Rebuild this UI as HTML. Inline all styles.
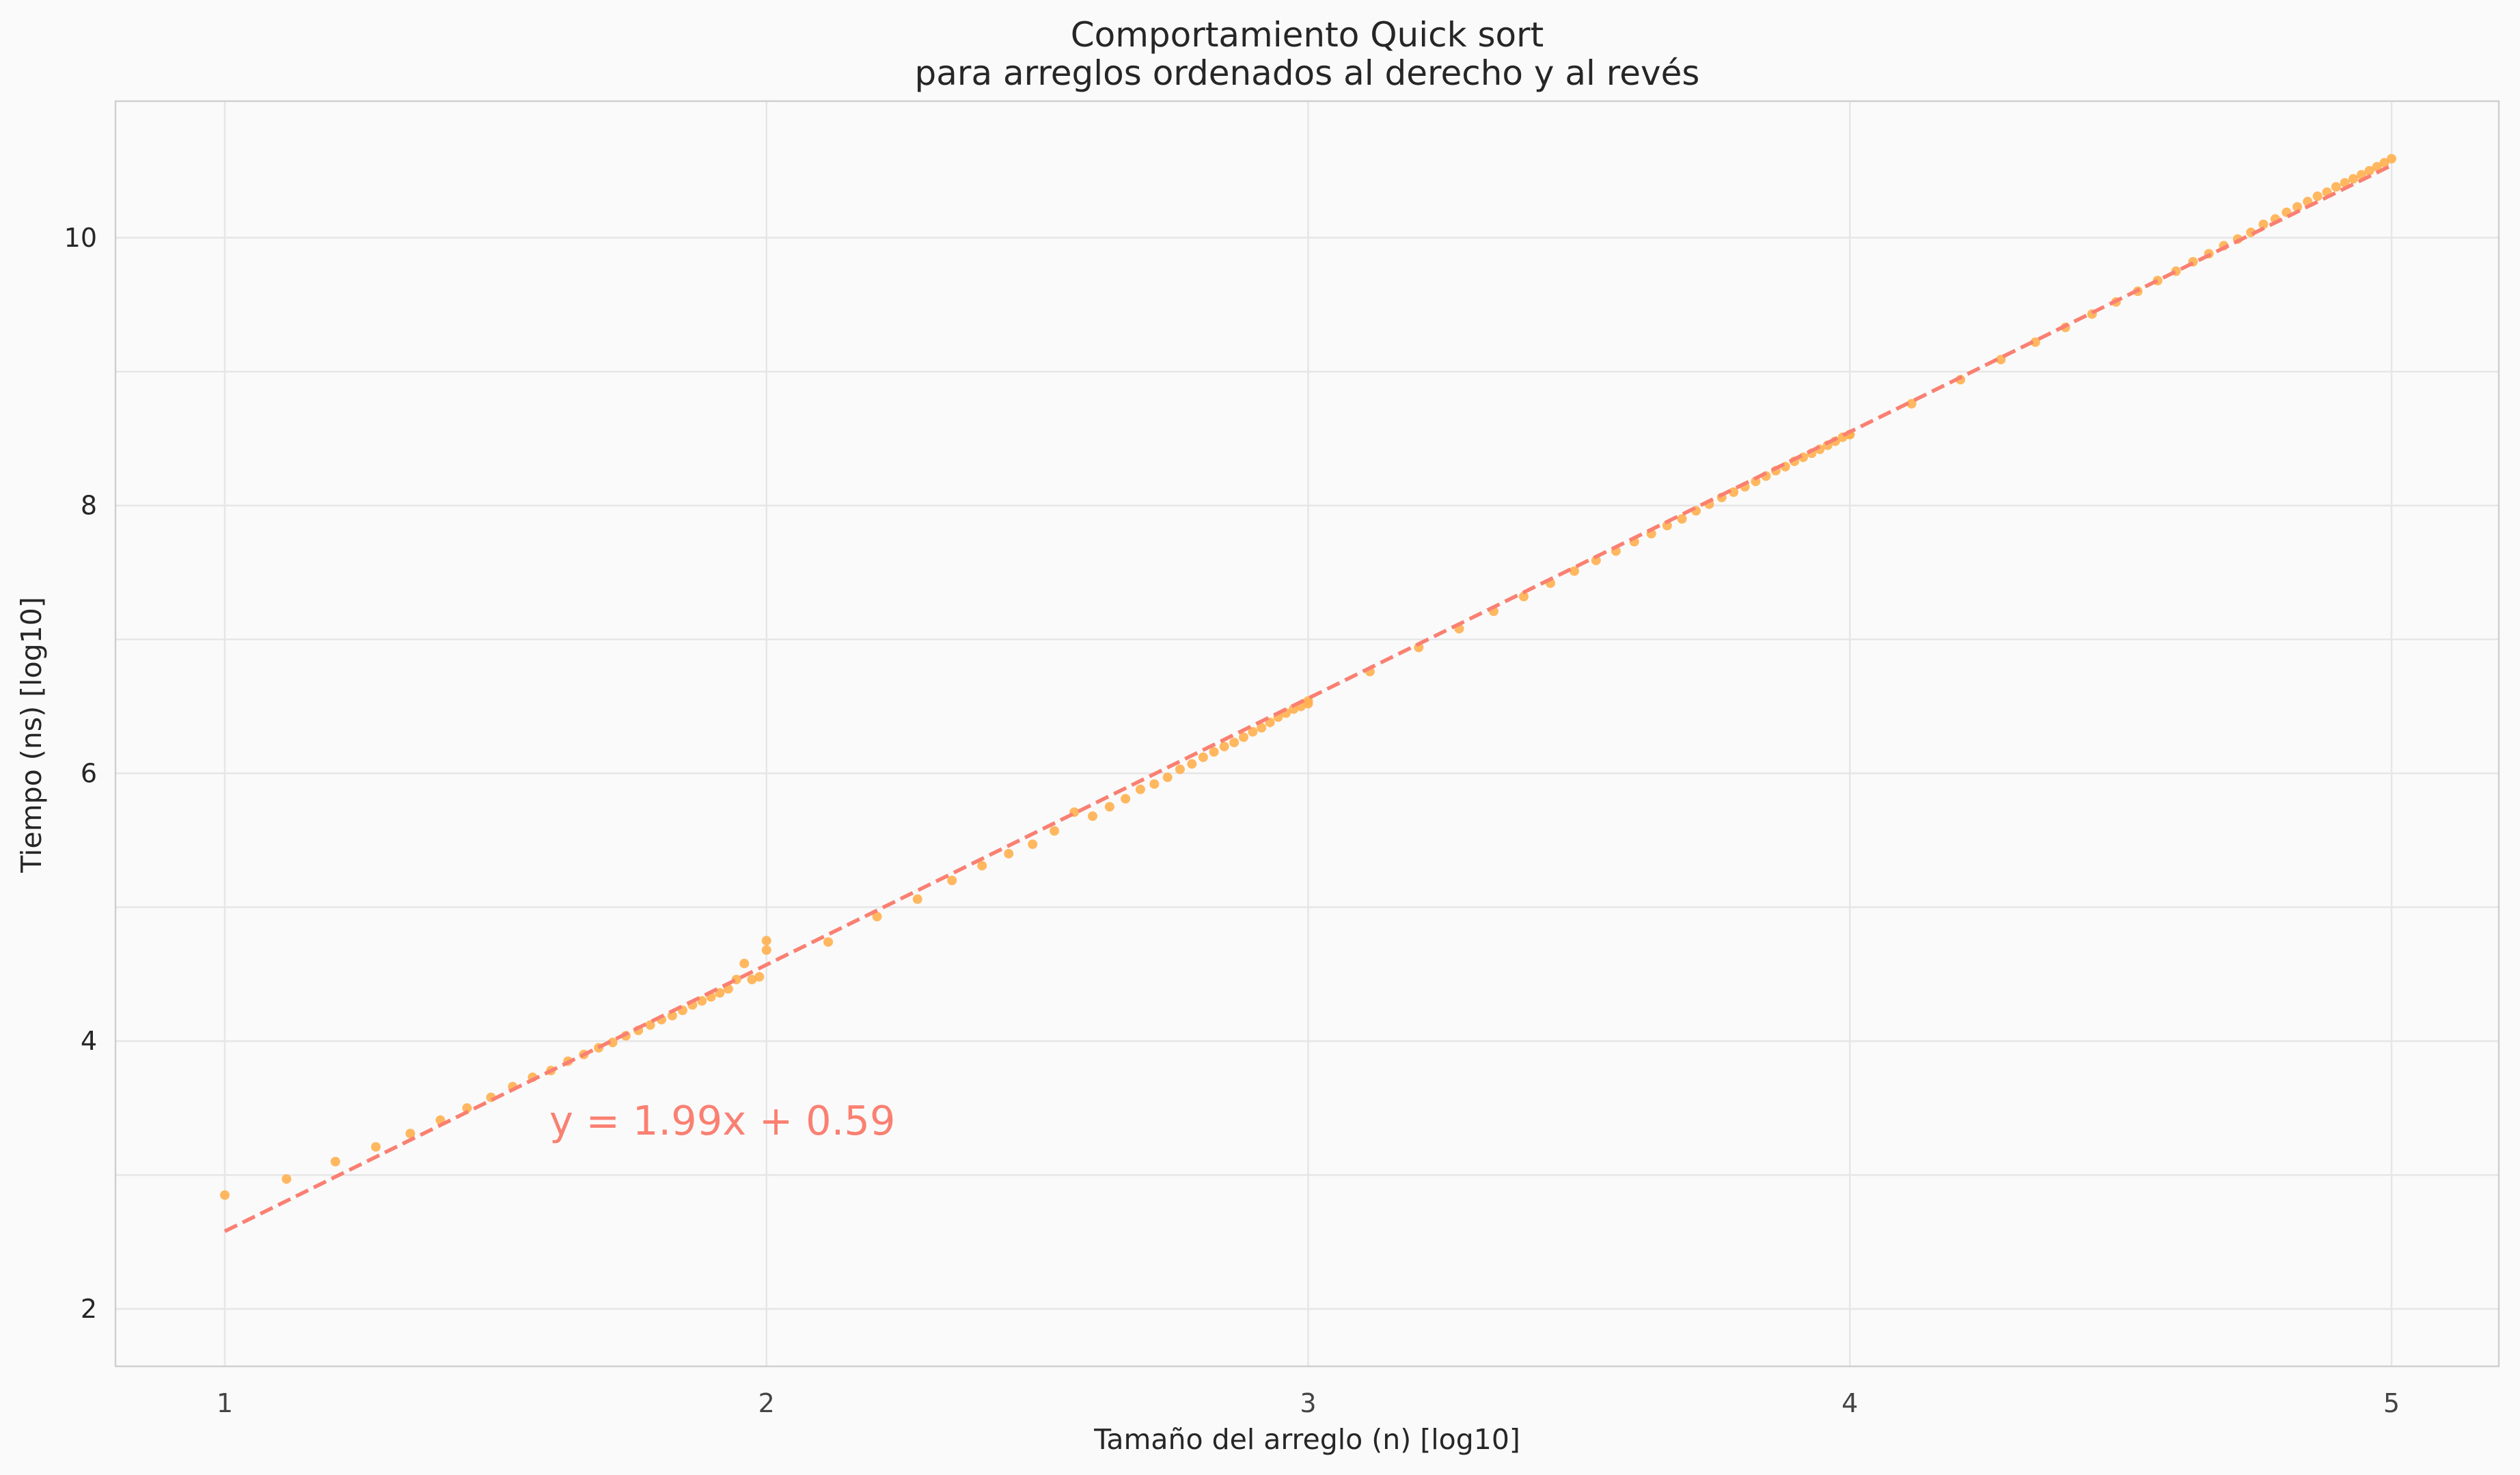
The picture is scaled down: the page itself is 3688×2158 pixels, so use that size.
<!DOCTYPE html>
<html><head><meta charset="utf-8"><style>
body{margin:0;background:#fafafa;}
svg{display:block;font-family:"DejaVu Sans","Liberation Sans",sans-serif;}
</style></head><body>
<svg id="chart" width="3688" height="2158" viewBox="0 0 3688 2158" xmlns="http://www.w3.org/2000/svg">
<rect width="3688" height="2158" fill="#fafafa"/>
<g id="grid"></g>
<g id="marks"></g>
<rect x="169" y="148" width="3488" height="1851" fill="none" stroke="#cfcfcf" stroke-width="2.5"/>
<text x="1913" y="68" font-size="50" text-anchor="middle" fill="#262626">Comportamiento Quick sort</text>
<text x="1913" y="124" font-size="50" text-anchor="middle" fill="#262626">para arreglos ordenados al derecho y al revés</text>
<text x="1913" y="2120" font-size="41" text-anchor="middle" fill="#262626">Tamaño del arreglo (n) [log10]</text>
<text transform="translate(60,1075) rotate(-90)" font-size="41" text-anchor="middle" fill="#262626">Tiempo (ns) [log10]</text>
<g id="ticks"></g>
</svg>
<script>
const sizes = [10,13,16,19,22,25,28,31,34,37,40,43,46,49,52,55,58,61,64,67,70,73,76,79,82,85,88,91,94,97,100,
100,130,160,190,220,250,280,310,340,370,400,430,460,490,520,550,580,610,640,670,700,730,760,790,820,850,880,910,940,970,1000,
1000,1300,1600,1900,2200,2500,2800,3100,3400,3700,4000,4300,4600,4900,5200,5500,5800,6100,6400,6700,7000,7300,7600,7900,8200,8500,8800,9100,9400,9700,10000,
10000,13000,16000,19000,22000,25000,28000,31000,34000,37000,40000,43000,46000,49000,52000,55000,58000,61000,64000,67000,70000,73000,76000,79000,82000,85000,88000,91000,94000,97000,100000];
const times = [2.85,2.97,3.10,3.21,3.31,3.41,3.50,3.58,3.66,3.73,3.78,3.85,3.90,3.95,3.99,4.04,4.08,4.12,4.16,4.19,4.23,4.27,4.30,4.33,4.36,4.39,4.46,4.58,4.46,4.48,4.75,
4.68,4.74,4.93,5.06,5.20,5.31,5.40,5.47,5.57,5.71,5.68,5.75,5.81,5.88,5.92,5.97,6.03,6.07,6.12,6.16,6.20,6.23,6.27,6.31,6.34,6.38,6.42,6.45,6.48,6.50,6.52,
6.54,6.76,6.94,7.08,7.21,7.32,7.42,7.51,7.59,7.66,7.73,7.79,7.85,7.90,7.96,8.01,8.06,8.10,8.14,8.18,8.22,8.26,8.29,8.33,8.36,8.39,8.42,8.45,8.48,8.51,8.53,
8.53,8.76,8.94,9.09,9.22,9.33,9.43,9.52,9.60,9.68,9.75,9.82,9.88,9.94,9.99,10.04,10.10,10.14,10.19,10.23,10.27,10.31,10.34,10.38,10.41,10.44,10.47,10.50,10.53,10.56,10.59];
const fitSlope = 1.99, fitIntercept = 0.59;
const xTicks = [1,2,3,4,5];
const yTicks = [2,4,6,8,10];
const yGrid = [2,3,4,5,6,7,8,9,10];

const NS='http://www.w3.org/2000/svg';
const X = v => 329 + (v-1)*792.75;
const Y = v => 1915 - (v-2)*195.9;
function mk(tag, attrs, parent){const e=document.createElementNS(NS,tag);for(const k in attrs)e.setAttribute(k,attrs[k]);parent.appendChild(e);return e;}
const grid=document.getElementById('grid'), marks=document.getElementById('marks'), ticks=document.getElementById('ticks');
yGrid.forEach(v=>{const l=mk('line',{x1:169,x2:3657,y1:Y(v),y2:Y(v),stroke:'#e6e6e6','stroke-width':2.5},grid);

});
xTicks.forEach(v=>{const l=mk('line',{x1:X(v),x2:X(v),y1:148,y2:1999,stroke:'#e6e6e6','stroke-width':2.5},grid);


const t=mk('text',{x:X(v),y:2066,'font-size':38,'text-anchor':'middle',fill:'#444'},ticks);t.textContent=v;

});
yTicks.forEach(v=>{const t=mk('text',{x:142,y:Y(v)+13,'font-size':38,'text-anchor':'end',fill:'#262626'},ticks);t.textContent=v;

});
sizes.forEach((n,i)=>{const c=mk('circle',{cx:X(Math.log10(n)),cy:Y(times[i]),r:7,fill:'#ffb04f','fill-opacity':0.9},marks);

});
const fl=mk('line',{x1:X(1),y1:Y(fitSlope*1+fitIntercept),x2:X(5),y2:Y(fitSlope*5+fitIntercept),stroke:'#fa8072','stroke-width':5.5,'stroke-dasharray':'20 9'},marks);


const eq=mk('text',{x:804,y:1660,'font-size':59,fill:'#fa8072'},marks);eq.textContent='y = '+fitSlope.toFixed(2)+'x + '+fitIntercept.toFixed(2);


</script>
</body></html>
